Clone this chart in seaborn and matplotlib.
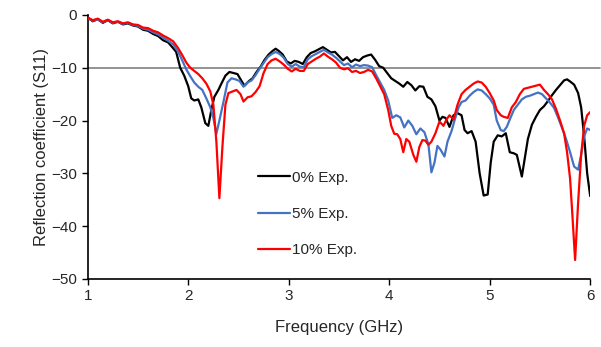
import numpy as np
import pandas as pd
import matplotlib
matplotlib.use('Agg')
import matplotlib.pyplot as plt
import seaborn as sns

# curve readings (GHz, dB)
freq_0 = [1.0, 1.05, 1.1, 1.15, 1.2, 1.25, 1.3, 1.35, 1.4, 1.45, 1.5, 1.55, 1.6, 1.65, 1.7, 1.75, 1.8, 1.85,
          1.88, 1.92, 1.96, 2.0, 2.03, 2.06, 2.1, 2.13, 2.17, 2.2, 2.23, 2.26, 2.3, 2.33, 2.37, 2.41, 2.45,
          2.49, 2.53, 2.56, 2.6, 2.64, 2.68, 2.72, 2.76, 2.8, 2.84, 2.87, 2.9, 2.94, 2.98, 3.02, 3.06, 3.1,
          3.14, 3.18, 3.22, 3.26, 3.3, 3.34, 3.38, 3.42, 3.46, 3.5, 3.54, 3.58, 3.62, 3.66, 3.7, 3.74, 3.78,
          3.82, 3.86, 3.9, 3.94, 3.98, 4.02, 4.06, 4.1, 4.14, 4.18, 4.22, 4.26, 4.3, 4.34, 4.38, 4.42, 4.46,
          4.5, 4.53, 4.56, 4.6, 4.64, 4.68, 4.72, 4.75, 4.78, 4.82, 4.86, 4.9, 4.94, 4.98, 5.01, 5.04, 5.08,
          5.12, 5.16, 5.2, 5.24, 5.27, 5.3, 5.32, 5.35, 5.38, 5.42, 5.46, 5.5, 5.54, 5.58, 5.62, 5.66, 5.7,
          5.74, 5.77, 5.8, 5.84, 5.88, 5.91, 5.94, 5.97, 6.0]
s11_0 = [-0.5, -1.2, -0.8, -1.5, -1.0, -1.6, -1.3, -1.8, -1.6, -2.0, -2.2, -2.8, -3.0, -3.6, -4.0, -4.8, -5.2,
         -6.3, -7.0, -10.0, -11.5, -13.5, -15.8, -16.2, -16.0, -17.5, -20.5, -21.0, -18.0, -15.5, -14.2, -13.0,
         -11.5, -10.8, -11.0, -11.2, -12.5, -13.4, -12.6, -12.0, -10.8, -9.8, -8.5, -7.5, -6.8, -6.4, -6.8,
         -7.5, -8.8, -9.2, -8.7, -8.9, -9.3, -8.0, -7.2, -6.9, -6.5, -6.1, -6.6, -7.1, -7.0, -7.8, -8.6, -8.0,
         -8.9, -8.4, -8.7, -8.0, -7.7, -7.5, -8.5, -9.7, -10.0, -11.0, -12.0, -12.5, -13.0, -13.6, -12.7,
         -13.3, -14.3, -13.5, -13.6, -15.5, -16.0, -17.3, -20.0, -19.3, -19.5, -21.2, -19.0, -18.6, -19.0,
         -21.8, -22.4, -22.0, -24.0, -30.0, -34.2, -34.0, -28.0, -24.0, -22.8, -23.0, -22.4, -26.0, -26.2,
         -26.5, -29.0, -30.6, -27.0, -23.5, -20.8, -19.3, -18.0, -17.3, -16.3, -15.2, -14.2, -13.3, -12.4,
         -12.2, -12.6, -13.2, -14.8, -17.5, -23.0, -30.0, -34.3]

freq_5 = [1.0, 1.05, 1.1, 1.15, 1.2, 1.25, 1.3, 1.35, 1.4, 1.45, 1.5, 1.55, 1.6, 1.65, 1.7, 1.75, 1.8, 1.85,
          1.9, 1.94, 1.98, 2.02, 2.06, 2.1, 2.14, 2.18, 2.22, 2.25, 2.28, 2.31, 2.35, 2.39, 2.43, 2.47, 2.51,
          2.55, 2.59, 2.63, 2.67, 2.71, 2.75, 2.79, 2.83, 2.87, 2.91, 2.95, 2.99, 3.03, 3.07, 3.11, 3.15, 3.19,
          3.23, 3.27, 3.31, 3.35, 3.39, 3.43, 3.47, 3.51, 3.55, 3.59, 3.63, 3.67, 3.71, 3.75, 3.79, 3.83, 3.87,
          3.91, 3.95, 3.99, 4.03, 4.07, 4.11, 4.15, 4.19, 4.23, 4.27, 4.31, 4.35, 4.39, 4.42, 4.45, 4.48, 4.51,
          4.55, 4.58, 4.62, 4.65, 4.69, 4.72, 4.76, 4.8, 4.84, 4.88, 4.92, 4.96, 5.0, 5.04, 5.07, 5.11, 5.14,
          5.17, 5.2, 5.24, 5.28, 5.32, 5.36, 5.4, 5.44, 5.48, 5.52, 5.56, 5.6, 5.64, 5.68, 5.72, 5.76, 5.8,
          5.84, 5.88, 5.91, 5.94, 5.97, 6.0]
s11_5 = [-0.6, -1.1, -0.9, -1.4, -1.0, -1.5, -1.3, -1.7, -1.5, -1.9, -2.1, -2.6, -2.8, -3.3, -3.7, -4.3, -4.9,
         -5.6, -7.0, -8.6, -10.3, -11.6, -12.8, -13.6, -14.2, -15.8, -17.5, -19.5, -22.5, -20.0, -16.5, -12.8,
         -12.0, -12.2, -12.5, -13.6, -12.8, -12.4, -11.4, -10.2, -9.1, -8.0, -7.4, -7.0, -7.4, -8.1, -9.3,
         -9.8, -9.3, -9.8, -9.9, -8.4, -7.8, -7.4, -7.0, -6.6, -7.1, -7.5, -8.1, -8.8, -9.5, -9.2, -9.9, -9.4,
         -9.7, -9.5, -9.6, -9.9, -11.4, -12.8, -14.2, -16.2, -19.5, -19.0, -19.4, -21.3, -20.0, -21.0, -22.6,
         -21.5, -22.2, -24.5, -29.8, -28.0, -24.8, -25.5, -26.8, -24.0, -22.0, -20.0, -17.5, -16.5, -16.2,
         -15.3, -14.6, -14.1, -14.3, -15.0, -15.8, -17.0, -20.0, -21.8, -22.0, -21.2, -19.8, -18.0, -17.0,
         -16.0, -15.5, -15.3, -15.0, -14.7, -15.0, -15.8, -16.6, -17.6, -19.4, -21.4, -23.5, -26.0, -28.7,
         -29.3, -26.5, -23.0, -21.5, -21.8]

freq_10 = [1.0, 1.05, 1.1, 1.15, 1.2, 1.25, 1.3, 1.35, 1.4, 1.45, 1.5, 1.55, 1.6, 1.65, 1.7, 1.75, 1.8, 1.85,
           1.9, 1.94, 1.98, 2.02, 2.06, 2.1, 2.14, 2.18, 2.22, 2.25, 2.28, 2.31, 2.34, 2.37, 2.4, 2.44, 2.48,
           2.52, 2.55, 2.59, 2.63, 2.67, 2.71, 2.75, 2.79, 2.83, 2.87, 2.91, 2.95, 2.99, 3.03, 3.07, 3.11, 3.15,
           3.19, 3.23, 3.27, 3.31, 3.35, 3.39, 3.43, 3.47, 3.51, 3.55, 3.59, 3.63, 3.67, 3.71, 3.75, 3.79, 3.83,
           3.87, 3.91, 3.95, 3.99, 4.02, 4.05, 4.08, 4.11, 4.14, 4.17, 4.2, 4.24, 4.27, 4.3, 4.33, 4.36, 4.39,
           4.42, 4.46, 4.5, 4.54, 4.57, 4.6, 4.64, 4.68, 4.72, 4.76, 4.8, 4.84, 4.88, 4.92, 4.96, 5.0, 5.04,
           5.07, 5.11, 5.14, 5.18, 5.22, 5.26, 5.3, 5.34, 5.38, 5.42, 5.46, 5.5, 5.54, 5.58, 5.62, 5.66, 5.7,
           5.74, 5.77, 5.8, 5.82, 5.85, 5.88, 5.91, 5.94, 5.97, 6.0]
s11_10 = [-0.5, -1.0, -0.7, -1.3, -0.9, -1.4, -1.2, -1.6, -1.4, -1.8, -1.9, -2.4, -2.5, -3.0, -3.3, -3.9, -4.4,
          -5.0, -6.3, -7.6, -9.0, -10.0, -10.6, -11.2, -12.0, -13.0, -14.5, -17.0, -24.0, -34.7, -25.0, -17.0,
          -14.8, -14.5, -14.2, -15.0, -16.4, -15.6, -15.4, -14.6, -13.5, -11.0, -9.3, -8.6, -8.3, -8.8, -9.4,
          -10.2, -10.7, -10.2, -10.6, -10.6, -9.3, -8.8, -8.3, -7.9, -7.3, -7.9, -8.4, -9.0, -10.0, -10.3,
          -10.1, -10.8, -10.6, -11.0, -10.8, -10.4, -10.7, -12.0, -13.5, -15.0, -18.0, -21.0, -22.5, -22.6,
          -23.5, -26.0, -23.5, -24.0, -26.5, -27.8, -25.0, -23.7, -23.8, -24.6, -24.0, -22.4, -20.2, -21.0,
          -19.8, -19.0, -19.8, -17.0, -15.0, -14.2, -13.6, -13.0, -12.6, -12.8, -13.6, -14.8, -16.2, -18.0,
          -19.0, -19.3, -19.5, -17.5, -16.5, -15.0, -14.0, -13.8, -13.6, -13.4, -13.2, -14.2, -15.0, -16.0,
          -17.8, -20.0, -22.4, -26.0, -31.0, -37.0, -46.4, -35.5, -26.5, -21.0, -19.0, -18.4]

labels = ['0% Exp.', '5% Exp.', '10% Exp.']
colors = ['#000000', '#4472C4', '#FF0000']
threshold = -10

sns.set_style('white')
plt.rcParams['font.family'] = ['Liberation Sans', 'DejaVu Sans']

fig = plt.figure(figsize=(6.01, 3.47), dpi=100)
ax = fig.add_axes([0.146, 0.196, 0.836, 0.761])

# -10 dB reference line, runs a bit past the axis end like the original
ax.axhline(threshold, xmax=1.02, color='#808080', lw=1.2, zorder=1, clip_on=False)

series = [(freq_0, s11_0), (freq_5, s11_5), (freq_10, s11_10)]
for (f, s), lab, c in zip(series, labels, colors):
    df = pd.DataFrame({'f': f, 's': s})
    sns.lineplot(data=df, x='f', y='s', ax=ax, color=c, lw=1.6, label=lab, zorder=3)

ax.set_xlim(1, 6)
ax.set_ylim(-50, 0)
ax.set_xticks(range(1, 7))
ax.set_yticks(range(-50, 1, 10))
ax.tick_params(axis='both', labelsize=11, direction='out', length=4, width=1, color='#000000',
               left=True, bottom=True)
ax.set_xlabel('Frequency (GHz)', fontsize=12, labelpad=12)
ax.set_ylabel('Reflection coefficient (S11)', fontsize=12, labelpad=2)
for side in ['top', 'right']:
    ax.spines[side].set_visible(False)
for side in ['left', 'bottom']:
    ax.spines[side].set_color('#000000')
    ax.spines[side].set_linewidth(1.2)

ax.legend(loc='upper left', bbox_to_anchor=(0.339, 0.41), frameon=False, fontsize=11,
          handlelength=2.1, handletextpad=0.15, labelspacing=1.45, borderpad=0, borderaxespad=0)

fig.savefig('out.png', dpi=100)
